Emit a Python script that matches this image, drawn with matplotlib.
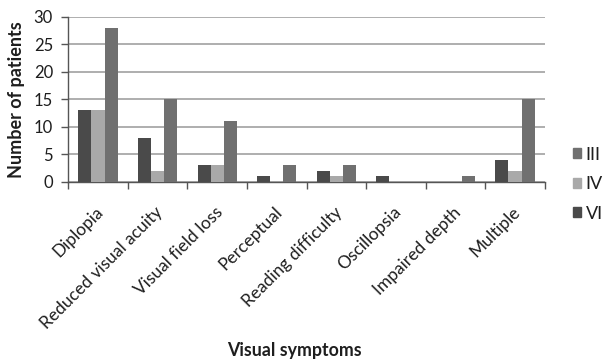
import matplotlib
matplotlib.use("Agg")
import matplotlib.pyplot as plt
import numpy as np
from matplotlib.patches import Patch

categories = ["Diplopia", "Reduced visual acuity", "Visual field loss", "Perceptual",
              "Reading difficulty", "Oscillopsia", "Impaired depth", "Multiple"]
nerve_vi = [13, 8, 3, 1, 2, 1, 0, 4]
nerve_iv = [13, 2, 3, 0, 1, 0, 0, 2]
nerve_iii = [28, 15, 11, 3, 3, 0, 1, 15]

colors = {"III": "#707070", "IV": "#a9a9a9", "VI": "#4a4a4a"}

plt.rcParams["font.family"] = ["Lato", "DejaVu Sans"]

fig = plt.figure(figsize=(6.04, 3.61), dpi=100)
ax = fig.add_axes([0.113, 0.496, 0.789, 0.457])

x = np.arange(len(categories))
w = 0.22
ax.bar(x - w, nerve_vi, w, color=colors["VI"], zorder=3)
ax.bar(x, nerve_iv, w, color=colors["IV"], zorder=3)
ax.bar(x + w, nerve_iii, w, color=colors["III"], zorder=3)

ax.set_xlim(-0.5, len(categories) - 0.5)
ax.set_ylim(0, 30)
ax.set_yticks(range(0, 31, 5))
ax.yaxis.grid(True, color="#a8a8a8", linewidth=1.3, zorder=0)
ax.set_axisbelow(True)

ax.set_xticks(np.arange(-0.5, len(categories), 1.0))
ax.set_xticklabels([])
ax.set_xticks(x + 0.05, minor=True)
ax.set_xticklabels(categories, minor=True, rotation=45, ha="right",
                   va="center", rotation_mode="anchor", fontsize=12.5,
                   color="#1e1e1e")
ax.tick_params(axis="x", which="minor", length=0, pad=20)
ax.tick_params(axis="x", which="major", length=5, color="#555555", width=1)
ax.tick_params(axis="y", length=5, color="#555555", width=1, labelsize=12,
               labelcolor="#1e1e1e", pad=6)

for s in ["top", "right"]:
    ax.spines[s].set_visible(False)
for s in ["left", "bottom"]:
    ax.spines[s].set_color("#555555")
    ax.spines[s].set_linewidth(1.0)

ax.set_ylabel("Number of patients", fontsize=13, fontweight="bold",
              color="#1e1e1e", labelpad=6)
fig.text(0.487, 0.03, "Visual symptoms", ha="center", va="center",
         fontsize=12.8, fontweight="bold", color="#1e1e1e")

handles = [Patch(color=colors[k]) for k in ["III", "IV", "VI"]]
fig.legend(handles, ["III", "IV", "VI"], loc="center left",
           bbox_to_anchor=(0.949, 0.49), frameon=False, fontsize=13,
           handlelength=0.45, handleheight=0.45, handletextpad=0.25,
           labelspacing=0.75, labelcolor="#1e1e1e", borderpad=0,
           borderaxespad=0)

fig.savefig("out.png", dpi=100)
